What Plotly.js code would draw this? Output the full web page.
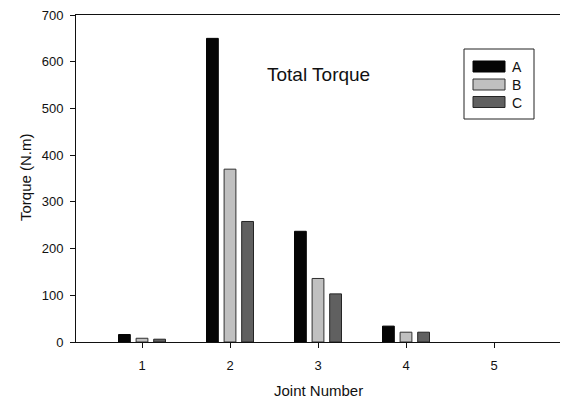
<!DOCTYPE html>
<html>
<head>
<meta charset="utf-8">
<script src="https://cdn.plot.ly/plotly-3.0.1.min.js"></script>
<style>html,body{margin:0;padding:0;background:#fff;}#chart{width:561px;height:400px;}</style>
</head>
<body>
<div id="chart"></div>
<script>
const joints = [1, 2, 3, 4, 5];
const seriesNames = ["A", "B", "C"];
const seriesA = [16, 650, 237, 34, 0];
const seriesB = [8, 370, 136, 21, 0];
const seriesC = [6, 258, 103, 21, 0];
const yTicks = [0, 100, 200, 300, 400, 500, 600, 700];
const fills = ["#050505", "#c0c0c0", "#606060"];
const outlines = ["#050505", "#303030", "#252525"];
const allSeries = [seriesA, seriesB, seriesC];
const font = "Liberation Sans, Arial, sans-serif";

const traces = allSeries.map((vals, i) => ({
  type: "bar",
  x: joints,
  y: vals,
  name: seriesNames[i],
  marker: {color: fills[i], line: {color: outlines[i], width: vals.map(v => v > 0 ? 1 : 0)}},
  showlegend: false,
  hoverinfo: "x+y+name"
}));

// custom legend box (paper coords)
const px = x => (x - 76) / 484;
const py = y => (342 - y) / 327;
const shapes = [{
  type: "rect", xref: "paper", yref: "paper",
  x0: px(464), x1: px(534), y0: py(119), y1: py(49),
  line: {color: "#222", width: 1}, fillcolor: "rgba(0,0,0,0)"
}];
const annotations = [];
const rowY = [66.5, 84.5, 102];
seriesNames.forEach((n, i) => {
  shapes.push({
    type: "rect", xref: "paper", yref: "paper",
    x0: px(473), x1: px(505), y0: py(rowY[i] + 5.5), y1: py(rowY[i] - 5.5),
    line: {color: outlines[i], width: 1}, fillcolor: fills[i]
  });
  annotations.push({
    xref: "paper", yref: "paper", x: px(510), y: py(rowY[i] + 0.5),
    xanchor: "left", yanchor: "middle", showarrow: false,
    text: n, font: {family: font, size: 14, color: "#111"}
  });
});
annotations.push({
  xref: "paper", yref: "paper", x: px(318), y: py(74),
  xanchor: "center", yanchor: "middle", showarrow: false,
  text: "Total Torque", font: {family: font, size: 19, color: "#111"}
});
annotations.push({
  xref: "paper", yref: "paper", x: px(318), y: py(390),
  xanchor: "center", yanchor: "middle", showarrow: false,
  text: "Joint Number", font: {family: font, size: 15, color: "#111"}
});
annotations.push({
  xref: "paper", yref: "paper", x: px(25), y: py(177),
  xanchor: "center", yanchor: "middle", showarrow: false, textangle: -90,
  text: "Torque (N.m)", font: {family: font, size: 15, color: "#111"}
});

const layout = {
  width: 561, height: 400,
  margin: {l: 76, r: 1, t: 15, b: 58, pad: 0},
  paper_bgcolor: "#fff", plot_bgcolor: "#fff",
  barmode: "group", bargap: 0.4, bargroupgap: 0.33,
  font: {family: font, size: 13, color: "#111"},
  xaxis: {
    range: [0.25, 5.75], tickvals: joints, ticktext: joints.map(String),
    ticks: "outside", ticklen: 5, tickcolor: "#111", tickwidth: 1,
    showline: true, linecolor: "#111", linewidth: 1, mirror: true,
    showgrid: false, zeroline: false, ticklabelstandoff: 6,
    tickfont: {family: font, size: 13, color: "#111"}
  },
  yaxis: {
    range: [0, 700], tickvals: yTicks,
    ticks: "outside", ticklen: 5, tickcolor: "#111", tickwidth: 1,
    showline: true, linecolor: "#111", linewidth: 1,
    showgrid: false, zeroline: false, ticklabelstandoff: 4,
    tickfont: {family: font, size: 13, color: "#111"}
  },
  shapes: shapes,
  annotations: annotations
};
Plotly.newPlot("chart", traces, layout, {displayModeBar: false, staticPlot: true});
</script>
</body>
</html>
